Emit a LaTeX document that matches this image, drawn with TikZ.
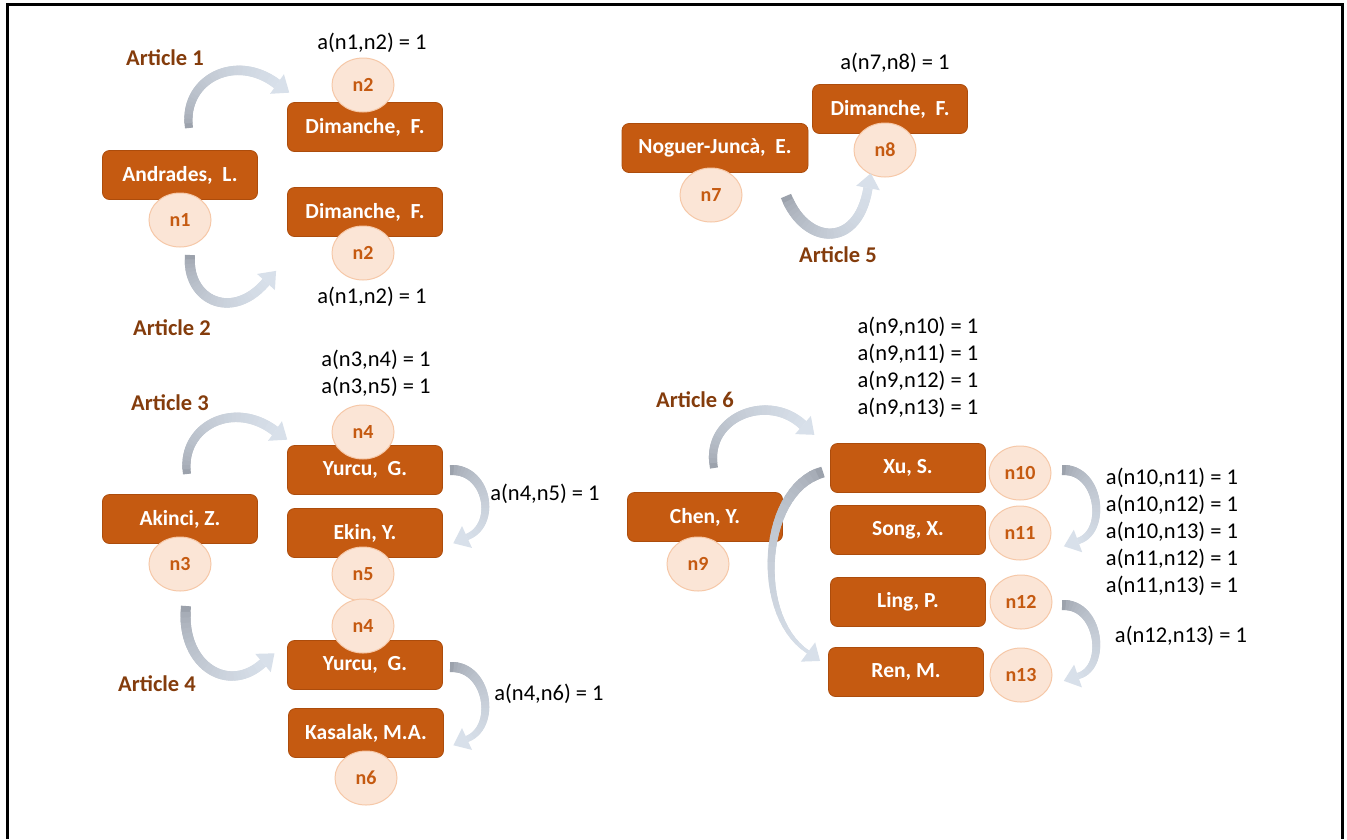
\documentclass[tikz,border=0pt]{standalone}
\usepackage{fontspec}
\setmainfont{Carlito}
\usetikzlibrary{shapes.geometric,calc}

\definecolor{boxfill}{RGB}{197,90,17}
\definecolor{boxdraw}{RGB}{172,76,12}
\definecolor{circfill}{RGB}{251,229,214}
\definecolor{circdraw}{RGB}{246,200,168}
\definecolor{articlecol}{RGB}{132,60,12}
\definecolor{arrowdark}{RGB}{156,162,172}
\definecolor{arrowlight}{RGB}{216,224,234}

\newcommand{\nmfnt}{\fontsize{21.5}{25}\selectfont\bfseries}
\newcommand{\idfnt}{\fontsize{20}{23}\selectfont\bfseries}
\newcommand{\artfnt}{\fontsize{22.5}{26}\selectfont\bfseries}
\newcommand{\adjfnt}{\fontsize{22.5}{27}\selectfont}

% Thick curved arrow along a Bezier spine: colour fades from tail to head,
% width changes linearly from #5 (tail) to #6 (head base).
\newcommand{\fatarrow}[6]{%
  \foreach \k in {0,...,30}{%
    \path (#1) .. controls (#2) and (#3) .. (#4) coordinate[pos=\k/30] (fa\k);}
  \foreach \k [evaluate=\k as \j using {int(\k+1)},
               evaluate=\k as \jj using {int(min(\k+2,30))},
               evaluate=\k as \p using {int(100*sqrt(\k/30))},
               evaluate=\k as \w using {#5+(#6-#5)*\k/30}] in {0,...,29}{%
    \draw[line width=\w pt, line cap=butt, line join=round,
          color=arrowlight!\p!arrowdark] (fa\k) -- (fa\j) -- (fa\jj);}
  \fill[arrowlight] ($(fa30)!12pt!90:(fa29)$) -- ($(fa30)!15pt!180:(fa29)$)
     -- ($(fa30)!12pt!-90:(fa29)$) -- cycle;
}

\tikzset{
  author/.style={rectangle, rounded corners=7pt, fill=boxfill, draw=boxdraw,
    line width=0.8pt, minimum width=155pt, minimum height=49pt,
    text=white, font=\nmfnt},
  idnode/.style={ellipse, fill=circfill, draw=circdraw, line width=1pt,
    minimum width=62pt, minimum height=54pt, inner sep=0pt,
    text=boxfill, font=\idfnt},
  article/.style={text=articlecol, font=\artfnt},
  adj/.style={text=black, font=\adjfnt, align=left, inner sep=0pt},
}

\begin{document}
\begin{tikzpicture}[x=1pt,y=-1pt]
\useasboundingbox (0,0) rectangle (1347,839);
\fill[white] (0,0) rectangle (1347,839);
\draw[line width=3pt] (7,839) -- (7,4) -- (1342,4) -- (1342,839);

% ---- Articles 1 and 2
\node[author] (andrades) at (180,175) {Andrades,\ \ L.};
\node[author] (dim1) at (365,127) {Dimanche,\ \ F.};
\node[author] (dim2) at (365,212) {Dimanche,\ \ F.};
\node[idnode] (n1) at (180,220) {n1};
\node[idnode] (n2a) at (363,85) {n2};
\node[idnode] (n2b) at (363,253) {n2};
\node[adj] (a12a) at (372,43) {a(n1,n2) = 1};
\node[adj] (a12b) at (372,297) {a(n1,n2) = 1};
\node[article] (art1) at (165,58) {Article 1};
\node[article] (art2) at (172,328) {Article 2};

% ---- Articles 3 and 4
\node[author] (akinci) at (180,519) {Akinci, Z.};
\node[author] (yurcu1) at (365,470) {Yurcu,\ \ G.};
\node[author] (ekin) at (365,533) {Ekin, Y.};
\node[author] (yurcu2) at (365,665) {Yurcu,\ \ G.};
\node[author] (kasalak) at (366,733) {Kasalak, M.A.};
\node[idnode] (n3) at (180,564) {n3};
\node[idnode] (n4a) at (363,432) {n4};
\node[idnode] (n5) at (363,574) {n5};
\node[idnode] (n4b) at (363,626) {n4};
\node[idnode] (n6) at (366,778) {n6};
\node[adj] (a345) at (376,373) {a(n3,n4) = 1\\a(n3,n5) = 1};
\node[adj] (a45) at (545,494) {a(n4,n5) = 1};
\node[adj] (a46) at (549,694) {a(n4,n6) = 1};
\node[article] (art3) at (170,403) {Article 3};
\node[article] (art4) at (157,684) {Article 4};

% ---- Article 5
\node[author, minimum width=186pt] (noguer) at (715,148) {Noguer-Juncà,\ \ E.};
\node[author] (dim3) at (890,109) {Dimanche,\ \ F.};
\node[idnode] (n7) at (711,195) {n7};
\node[idnode] (n8) at (885,150) {n8};
\node[adj] (a78) at (895,63) {a(n7,n8) = 1};
\node[article] (art5) at (838,255) {Article 5};

% ---- Article 6
\node[author] (chen) at (705,517) {Chen, Y.};
\node[author] (xu) at (908,468) {Xu, S.};
\node[author] (song) at (908,530) {Song, X.};
\node[author] (ling) at (908,602) {Ling, P.};
\node[author] (ren) at (906,672) {Ren, M.};
\node[idnode] (n9) at (698,564) {n9};
\node[idnode] (n10) at (1020,473) {n10};
\node[idnode] (n11) at (1020,533) {n11};
\node[idnode] (n12) at (1021,602) {n12};
\node[idnode] (n13) at (1021,675) {n13};
\node[adj] (a9) at (918,367) {a(n9,n10) = 1\\a(n9,n11) = 1\\a(n9,n12) = 1\\a(n9,n13) = 1};
\node[adj] (a1011) at (1172,532) {a(n10,n11) = 1\\a(n10,n12) = 1\\a(n10,n13) = 1\\a(n11,n12) = 1\\a(n11,n13) = 1};
\node[adj] (a1213) at (1181,636) {a(n12,n13) = 1};
\node[article] (art6) at (695,400) {Article 6};

% ---- curved arrows
\fatarrow{189,128}{182,80}{235,52}{277,84}{8}{10}
\fatarrow{190,255}{186,300}{232,322}{266,282}{10}{9}
\fatarrow{187,474}{180,427}{233,399}{275,431}{8}{10}
\fatarrow{186,606}{180,665}{228,695}{263,663}{10}{9}
\fatarrow{786,196}{805,245}{858,250}{868,188}{11}{9}
\fatarrow{714,468}{704,417}{768,392}{803,425}{8}{10}
\fatarrow{823,472}{762,488}{752,615}{808,652}{11}{3}
\fatarrow{450,470}{488,468}{498,525}{467,537}{10}{6}
\fatarrow{450,667}{488,665}{498,727}{467,739}{10}{6}
\fatarrow{1062,470}{1100,468}{1108,532}{1078,541}{10}{6}
\fatarrow{1062,605}{1100,603}{1108,668}{1078,676}{10}{6}
\end{tikzpicture}
\end{document}
